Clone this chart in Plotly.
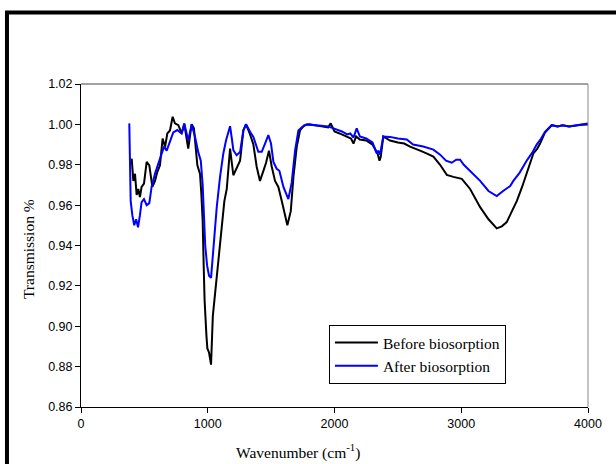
import plotly.graph_objects as go

before_x = [400, 413, 426, 439, 452, 465, 478, 497, 518, 539, 563, 584, 602, 623, 644, 663, 681, 702,
            723, 741, 768, 794, 815, 846, 873, 891, 918, 939, 950, 960, 968, 975, 990, 997, 1010, 1026,
            1040, 1065, 1090, 1105, 1131, 1150, 1176, 1202, 1228, 1255, 1281, 1302, 1334, 1360, 1386,
            1412, 1439, 1460, 1483, 1505, 1531, 1557, 1584, 1610, 1628, 1655, 1676, 1702, 1728, 1760,
            1800, 1850, 1900, 1950, 1970, 2000, 2040, 2080, 2100, 2130, 2150, 2170, 2200, 2250, 2300,
            2320, 2340, 2355, 2365, 2385, 2438, 2500, 2550, 2596, 2640, 2675, 2730, 2780, 2833, 2886,
            2938, 3004, 3070, 3149, 3215, 3280, 3320, 3359, 3400, 3438, 3480, 3516, 3545, 3569, 3600,
            3622, 3661, 3690, 3714, 3760, 3800, 3850, 3900, 3950, 4000]
before_y = [0.983, 0.972, 0.9755, 0.965, 0.968, 0.964, 0.969, 0.9707, 0.9814, 0.9797, 0.969, 0.972,
            0.9764, 0.9797, 0.993, 0.9888, 0.9955, 0.997, 1.0038, 1.0005, 0.9996, 0.9955, 1.0001, 0.988,
            1.0001, 0.998, 0.9797, 0.9755, 0.965, 0.952, 0.930, 0.913, 0.895, 0.889, 0.887, 0.881,
            0.905, 0.921, 0.935, 0.946, 0.962, 0.968, 0.988, 0.9748, 0.978, 0.982, 0.997, 1.000, 0.995,
            0.990, 0.979, 0.972, 0.977, 0.981, 0.987, 0.979, 0.972, 0.969, 0.962, 0.955, 0.950, 0.957,
            0.974, 0.9889, 0.997, 0.9995, 1.000, 0.9995, 0.999, 0.9985, 1.0005, 0.9965, 0.9955, 0.9945,
            0.994, 0.993, 0.9905, 0.994, 0.9925, 0.992, 0.990, 0.988, 0.9855, 0.982, 0.984, 0.994,
            0.992, 0.991, 0.9905, 0.989, 0.988, 0.987, 0.9855, 0.984, 0.980, 0.975, 0.974, 0.973, 0.968,
            0.959, 0.953, 0.9485, 0.9495, 0.9516, 0.957, 0.962, 0.969, 0.9756, 0.981, 0.9856, 0.988,
            0.9905, 0.996, 0.998, 0.9996, 0.999, 0.9995, 0.999, 0.9995, 0.9998, 1.000]

after_x = [381, 392, 405, 420, 435, 450, 465, 478, 497, 518, 539, 557, 584, 610, 636, 655, 676, 702,
           728, 760, 794, 815, 846, 873, 899, 926, 945, 960, 970, 980, 995, 1010, 1026, 1040, 1052,
           1071, 1097, 1123, 1144, 1160, 1176, 1190, 1202, 1228, 1255, 1281, 1302, 1334, 1360, 1399,
           1426, 1452, 1478, 1499, 1518, 1544, 1565, 1597, 1636, 1662, 1689, 1715, 1742, 1781, 1850,
           1900, 1950, 1992, 2040, 2058, 2100, 2124, 2150, 2175, 2200, 2250, 2300, 2333, 2345, 2359,
           2385, 2438, 2500, 2570, 2620, 2700, 2780, 2833, 2880, 2925, 2960, 2991, 3020, 3070, 3149,
           3215, 3280, 3330, 3386, 3411, 3460, 3516, 3560, 3595, 3630, 3661, 3714, 3760, 3800, 3850,
           3900, 3950, 4000]
after_y = [1.0005, 0.962, 0.955, 0.950, 0.953, 0.949, 0.955, 0.9615, 0.963, 0.960, 0.961, 0.969,
           0.9756, 0.9805, 0.9856, 0.989, 0.987, 0.992, 0.996, 0.9972, 0.9955, 1.0005, 0.992, 1.000,
           0.994, 0.986, 0.982, 0.970, 0.955, 0.940, 0.930, 0.925, 0.924, 0.935, 0.946, 0.959, 0.974,
           0.9856, 0.992, 0.995, 0.9991, 0.993, 0.9872, 0.9847, 0.9863, 0.9971, 1.0001, 0.9963, 0.9938,
           0.9864, 0.9864, 0.9905, 0.9947, 0.9905, 0.9814, 0.978, 0.977, 0.969, 0.963, 0.971, 0.987,
           0.997, 0.9985, 1.000, 0.9995, 0.9995, 0.999, 0.998, 0.997, 0.9965, 0.995, 0.9955, 0.9935,
           0.998, 0.994, 0.993, 0.991, 0.9856, 0.987, 0.985, 0.994, 0.9938, 0.993, 0.9925, 0.990, 0.989,
           0.9875, 0.985, 0.982, 0.981, 0.9825, 0.9825, 0.980, 0.977, 0.972, 0.967, 0.9645, 0.967,
           0.9695, 0.972, 0.976, 0.982, 0.986, 0.990, 0.993, 0.9963, 0.9996, 0.999, 0.9995, 0.999,
           0.9995, 0.9998, 1.0005]

x_ticks = [0, 1000, 2000, 3000, 4000]
y_ticks = [0.86, 0.88, 0.90, 0.92, 0.94, 0.96, 0.98, 1.00, 1.02]

fig = go.Figure()
fig.add_trace(go.Scatter(x=before_x, y=before_y, mode="lines", name="Before biosorption",
                         line=dict(color="#000000", width=2)))
fig.add_trace(go.Scatter(x=after_x, y=after_y, mode="lines", name="After biosorption",
                         line=dict(color="#0000ff", width=2)))

tickfont = dict(family="Liberation Sans, Arial", size=12.5, color="#000")
titlefont = dict(family="Liberation Serif, Times New Roman", size=15.5, color="#000")

fig.update_layout(
    width=616, height=464,
    margin=dict(l=81, r=28, t=84, b=57),
    paper_bgcolor="white", plot_bgcolor="white",
    showlegend=True,
    legend=dict(x=0.489, y=0.254, xanchor="left", yanchor="top",
                bgcolor="white", bordercolor="#000", borderwidth=1, itemwidth=43,
                font=dict(family="Liberation Serif, Times New Roman", size=15.5, color="#000"),
                tracegroupgap=0),
    xaxis=dict(range=[0, 4000], tickvals=x_ticks, ticks="outside", ticklen=5, tickcolor="#000",
               showline=True, linecolor="#000", linewidth=1, showgrid=False, zeroline=False,
               tickfont=tickfont),
    yaxis=dict(range=[0.86, 1.02], tickvals=y_ticks, tickformat=".2f", ticks="outside", ticklen=5,
               tickcolor="#000", showline=True, linecolor="#000", linewidth=1, showgrid=False,
               zeroline=False, tickfont=tickfont),
    annotations=[
        dict(text="Wavenumber (cm<sup>-1</sup>)", xref="paper", yref="paper", x=0.428, y=-0.139,
             xanchor="center", yanchor="middle", showarrow=False, font=titlefont),
        dict(text="Transmission %", xref="paper", yref="paper", x=-0.1045, y=0.489, textangle=-90,
             xanchor="center", yanchor="middle", showarrow=False, font=titlefont),
    ],
    shapes=[
        dict(type="line", xref="paper", yref="paper", x0=0, x1=1, y0=1, y1=1,
             line=dict(color="#444", width=1)),
        dict(type="line", xref="paper", yref="paper", x0=1, x1=1, y0=0, y1=1,
             line=dict(color="#888", width=1)),
        dict(type="rect", xref="paper", yref="paper", x0=-0.146, x1=1.1, y0=-0.25, y1=1.2214,
             line=dict(color="#000", width=4), fillcolor="rgba(0,0,0,0)", layer="above"),
    ],
)

fig.write_html("out.html")
